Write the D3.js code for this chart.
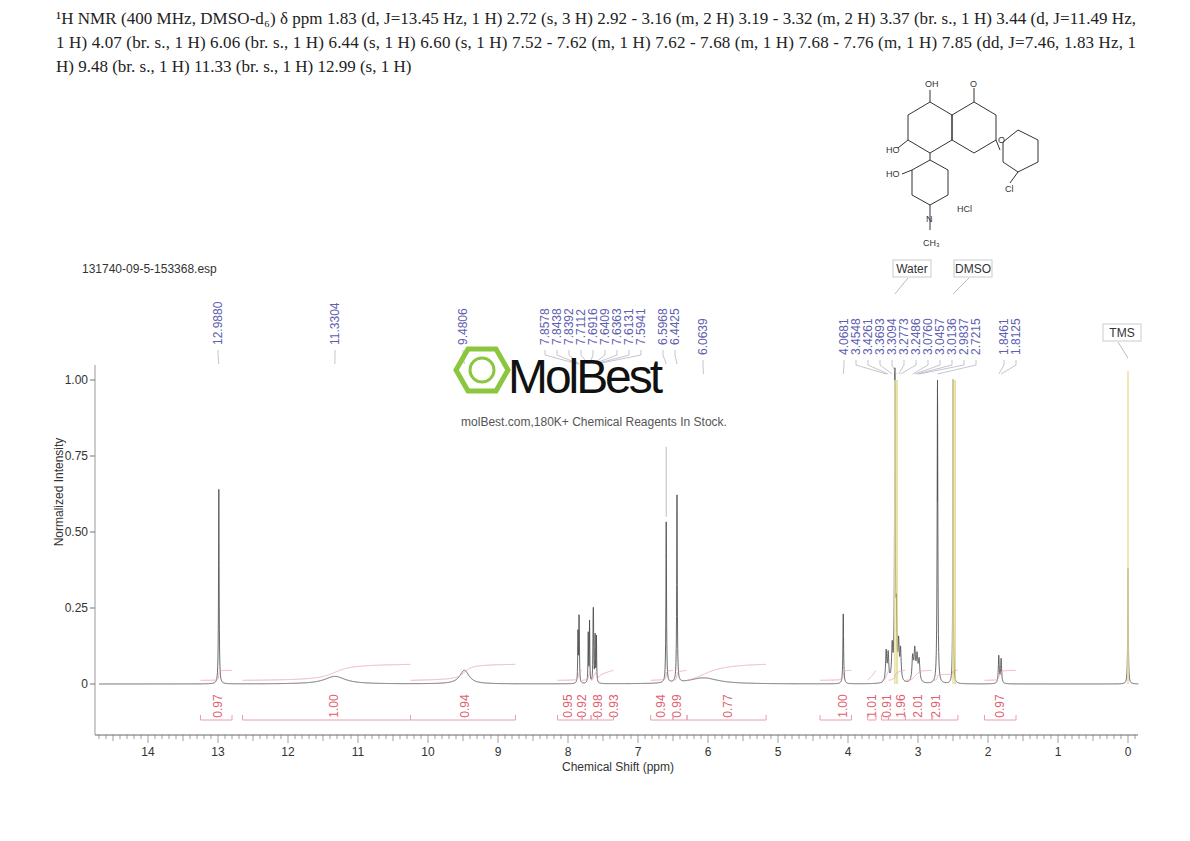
<!DOCTYPE html><html><head><meta charset="utf-8"><script src="https://cdn.jsdelivr.net/npm/d3@7"></script>
<style>body{margin:0;background:#fff}text{font-family:"Liberation Sans",Arial,sans-serif}</style></head><body>
<svg id="c" width="1190" height="841"></svg>
<script>
// peaks: ppm, height, half-width(ppm)
const peakPpm=[12.988,11.33,9.48,7.858,7.844,7.839,7.711,7.692,7.641,7.636,7.613,7.594,6.597,6.443,6.064,4.068,3.455,3.426,3.369,3.33,3.309,3.277,3.249,3.076,3.046,3.014,2.984,2.7215,2.50,1.846,1.8125,0.0];
const peakH=[0.64,0.025,0.045,0.16,0.16,0.14,0.17,0.2,0.17,0.17,0.16,0.15,0.55,0.64,0.02,0.23,0.1,0.09,0.11,1.0,0.2,0.12,0.1,0.08,0.1,0.08,0.07,0.98,1.0,0.09,0.08,0.38];
const peakW=[0.005,0.18,0.08,0.004,0.004,0.004,0.004,0.004,0.004,0.004,0.004,0.004,0.005,0.005,0.25,0.006,0.01,0.01,0.01,0.006,0.008,0.01,0.01,0.012,0.012,0.012,0.012,0.006,0.004,0.008,0.008,0.005];
const peakLabels=["12.9880","11.3304","9.4806","7.8578","7.8438","7.8392","7.7112","7.6916","7.6409","7.6363","7.6131","7.5941","6.5968","6.4425","6.0639","4.0681","3.4548","3.4261","3.3693","3.3094","3.2773","3.2486","3.0760","3.0457","3.0136","2.9837","2.7215","1.8461","1.8125"];
const intLabels=["0.97","1.00","0.94","0.95","0.92","0.98","0.93","0.94","0.99","0.77","1.00","1.01","0.91","1.96","2.01","2.91","0.97"];
const intPos=[13.0,11.35,9.47,8.0,7.8,7.57,7.35,6.67,6.44,5.72,4.07,3.66,3.45,3.24,3.0,2.74,1.83];
const intRanges=[[13.25,12.8],[12.65,10.25],[10.25,8.75],[8.15,7.8],[7.8,7.67],[7.67,7.58],[7.58,7.35],[6.82,6.5],[6.5,6.3],[6.3,5.17],[4.4,3.95],[3.72,3.6],[3.52,3.42],[3.42,3.18],[3.18,2.8],[2.8,2.43],[2.05,1.6]];
const xTicks=[14,13,12,11,10,9,8,7,6,5,4,3,2,1,0];
const yTicks=[0,0.25,0.5,0.75,1.0];
const yTickLabels=["0","0.25","0.50","0.75","1.00"];

const svg=d3.select("#c");
const x=d3.scaleLinear().domain([14,0]).range([148,1128]);
const y=d3.scaleLinear().domain([0,1]).range([684,380]);
const red="#e06070",blue="#6060b0";

const lines=["¹H NMR (400 MHz, DMSO-d₆) δ ppm 1.83 (d, J=13.45 Hz, 1 H) 2.72 (s, 3 H) 2.92 - 3.16 (m, 2 H) 3.19 - 3.32 (m, 2 H) 3.37 (br. s., 1 H) 3.44 (d,  J=11.49 Hz,",
"1 H) 4.07 (br. s., 1 H) 6.06 (br. s., 1 H) 6.44 (s, 1 H) 6.60 (s, 1 H) 7.52 - 7.62 (m, 1 H) 7.62 - 7.68 (m, 1 H) 7.68 - 7.76 (m, 1 H) 7.85 (dd,   J=7.46, 1.83 Hz, 1",
"H) 9.48 (br. s., 1 H) 11.33 (br. s., 1 H) 12.99 (s, 1 H)"];
lines.forEach((l,i)=>svg.append("text").attr("x",56).attr("y",24+i*24).attr("textLength",i<2?1080:null).style("font-family","Liberation Serif").style("font-size","17px").attr("fill","#222").text(l));

// molecule sketch
const m=svg.append("g").attr("stroke","#333").attr("fill","none").attr("stroke-width",1);
const P=(pts,c)=>m.append("path").attr("d","M"+pts.map(p=>p.join(",")).join("L")+(c===false?"":"Z"));
P([[908,115],[930,102],[952,115],[952,140],[930,153],[908,140]]);
P([[952,115],[974,102],[996,115],[996,140],[974,153],[952,140]]);
P([[996,140],[1000,150]],false);
P([[1003,142],[1018,130],[1038,140],[1038,162],[1018,172],[1003,162]]);
P([[912,170],[930,160],[948,170],[948,195],[930,205],[912,195]]);
[[930,102,930,90],[974,102,974,88],[908,140,898,148],[930,153,930,160],[912,170,902,174],[1018,172,1010,183],[930,205,930,230]].forEach(l=>m.append("line").attr("x1",l[0]).attr("y1",l[1]).attr("x2",l[2]).attr("y2",l[3]));
const mt=(t,a,b)=>svg.append("text").attr("x",a).attr("y",b).style("font-size","9px").attr("fill","#333").text(t);
mt("OH",925,87);mt("O",970,87);mt("HO",886,153);mt("O",998,143);mt("HO",886,177);mt("Cl",1005,192);mt("HCl",957,212);mt("N",926,222);mt("CH₃",923,246);

// axes
svg.append("text").attr("x",82).attr("y",273).style("font-size","12px").attr("fill","#333").text("131740-09-5-153368.esp");
svg.append("line").attr("x1",95).attr("x2",1138).attr("y1",735).attr("y2",735).attr("stroke","#666");
svg.append("line").attr("x1",95).attr("x2",95).attr("y1",365).attr("y2",735).attr("stroke","#999");
const minor=d3.range(-1,148).map(i=>i/10).filter(v=>v<=14.7&&v>=-0.14);
svg.selectAll(".mn").data(minor).enter().append("line").attr("x1",d=>x(d)).attr("x2",d=>x(d)).attr("y1",735).attr("y2",d=>Math.abs(d-Math.round(d))<1e-6?743:(Math.abs(d*2-Math.round(d*2))<1e-6?741:739)).attr("stroke","#777").attr("stroke-width",0.7);
svg.selectAll(".xt").data(xTicks).enter().append("text").attr("x",d=>x(d)).attr("y",756).attr("text-anchor","middle").style("font-size","12px").attr("fill","#333").text(d=>d);
svg.append("text").attr("x",618).attr("y",771).attr("text-anchor","middle").style("font-size","12px").attr("fill","#333").text("Chemical Shift (ppm)");
svg.selectAll(".yt").data(yTicks).enter().append("text").attr("x",88).attr("y",d=>y(d)+4).attr("text-anchor","end").style("font-size","12px").attr("fill","#333").text((d,i)=>yTickLabels[i]);
svg.selectAll(".ytl").data(yTicks).enter().append("line").attr("x1",90).attr("x2",95).attr("y1",d=>y(d)).attr("y2",d=>y(d)).attr("stroke","#777");
svg.append("text").attr("transform","translate(63,492) rotate(-90)").attr("text-anchor","middle").style("font-size","12px").attr("fill","#333").text("Normalized Intensity");

// spectrum
const grid=d3.range(14.7,-0.15,-0.002);
const f=p=>{let s=0;peakPpm.forEach((c,i)=>{const w=peakW[i];s+=peakH[i]*w*w/((p-c)*(p-c)+w*w);});return s;};
const spec=grid.map(p=>[p,f(p)]);
svg.append("path").attr("d",d3.line().x(d=>x(d[0])).y(d=>y(d[1]))(spec)).attr("fill","none").attr("stroke","#444").attr("stroke-width",0.8);
[[3.33,1.0],[2.5,1.0],[0,1.03]].forEach(s=>svg.append("line").attr("x1",x(s[0])).attr("x2",x(s[0])).attr("y1",y(0)).attr("y2",y(s[1])).attr("stroke","#e8e0a0").attr("stroke-width",1.5));
[[3.33,1.0],[2.5,1.0]].forEach(s=>svg.append("line").attr("x1",x(s[0]-0.03)).attr("x2",x(s[0]-0.03)).attr("y1",y(0)).attr("y2",y(s[1])).attr("stroke","#d8d070").attr("stroke-width",1.2));
svg.append("line").attr("x1",x(2.7215)).attr("x2",x(2.7215)).attr("y1",y(0.6)).attr("y2",y(1.0)).attr("stroke","#555");
svg.append("line").attr("x1",x(6.597)).attr("x2",x(6.597)).attr("y1",y(0.55)).attr("y2",y(0.78)).attr("stroke","#bbb");

// peak labels
const lx=[218,335,463,545,557,569,581,593,605,617,629,641,663,675,703,844,856,868,880,892,904,916,928,940,952,964,976,1004,1016];
peakLabels.forEach((l,i)=>{
  const px=x(+l), top=lx[i]<700?345:355;
  svg.append("text").attr("transform",`translate(${lx[i]+4},${top}) rotate(-90)`).style("font-size","12px").attr("fill",blue).text(l);
  svg.append("path").attr("d",`M${lx[i]},${top+5}L${lx[i]},${top+10}L${px},${top+19}`).attr("fill","none").attr("stroke","#aab").attr("stroke-width",0.7);
});
[["Water",912,272,3.33],["DMSO",973,272,2.5],["TMS",1122,336,0]].forEach(a=>{
  svg.append("rect").attr("x",a[1]-19).attr("y",a[2]-12).attr("width",38).attr("height",17).attr("fill","#fff").attr("stroke","#ccc");
  svg.append("text").attr("x",a[1]).attr("y",a[2]+1).attr("text-anchor","middle").style("font-size","12px").attr("fill","#333").text(a[0]);
  svg.append("line").attr("x1",a[1]-4).attr("y1",a[2]+6).attr("x2",x(a[3])).attr("y2",a[2]+22).attr("stroke","#bbb");
});

// integrals
intLabels.forEach((l,i)=>{
  svg.append("text").attr("transform",`translate(${x(intPos[i])+4},${706}) rotate(-90)`).attr("text-anchor","middle").style("font-size","12px").attr("fill",red).text(l);
});
intRanges.forEach(r=>{
  const a=x(r[0]),b=x(r[1]);
  svg.append("path").attr("d",`M${a},715L${a},720L${b},720L${b},715`).attr("fill","none").attr("stroke","#e8a0a8");
  const pts=grid.filter(p=>p<=r[0]&&p>=r[1]);
  let acc=0;
  const vals=pts.map(p=>{acc+=f(p);return [p,acc];});
  const mx=acc||1, h=r[0]-r[1]>1?16:10;
  svg.append("path").attr("d",d3.line().x(d=>x(d[0])).y(d=>y(0.012)-d[1]/mx*h)(vals)).attr("fill","none").attr("stroke","#e8a0a8").attr("stroke-width",0.8);
});

// watermark
const wm=svg.append("g");
wm.append("path").attr("d","M468,349L496,349L508,370L496,391L468,391L456,370Z").attr("fill","none").attr("stroke","#8cc63f").attr("stroke-width",5);
wm.append("circle").attr("cx",482).attr("cy",370).attr("r",12).attr("fill","none").attr("stroke","#8cc63f").attr("stroke-width",3);
wm.append("text").attr("x",508).attr("y",393).style("font-size","48px").style("font-family","Liberation Sans Narrow,Liberation Sans").attr("fill","#111").attr("textLength",155).text("MolBest");
wm.append("text").attr("x",594).attr("y",426).attr("text-anchor","middle").style("font-size","12px").attr("fill","#555").text("molBest.com,180K+ Chemical Reagents In Stock.");
</script></body></html>
